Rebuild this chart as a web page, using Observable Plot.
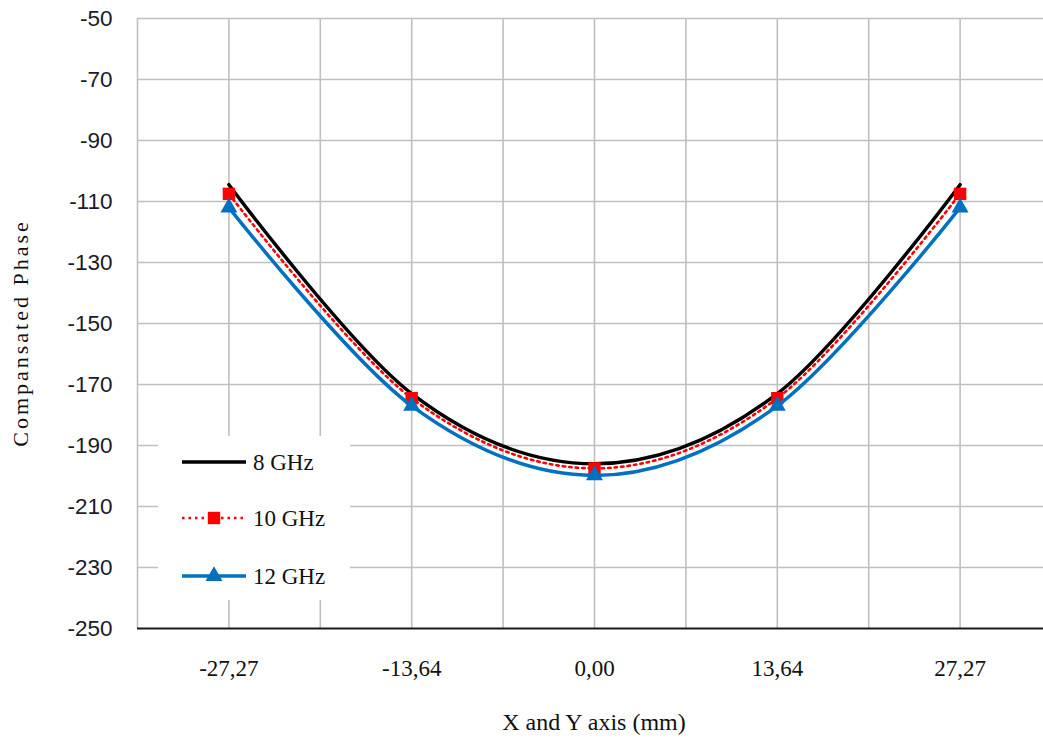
<!DOCTYPE html>
<html>
<head>
<meta charset="utf-8">
<script src="https://cdn.jsdelivr.net/npm/d3@7"></script>
<script src="https://cdn.jsdelivr.net/npm/@observablehq/plot@0.6"></script>
<style>
  html, body { margin: 0; padding: 0; background: #fff; }
  #chart { width: 1043px; height: 745px; }
</style>
</head>
<body>
<div id="chart"></div>
<script>
// ---- data ----
const xLabels = ["-27,27", "-13,64", "0,00", "13,64", "27,27"];
const seriesNames = ["8 GHz", "10 GHz", "12 GHz"];
const phase8GHz  = [-104.5, -173.0, -196.0, -173.0, -104.5];
const phase10GHz = [-107.5, -174.5, -197.5, -174.5, -107.5];
const phase12GHz = [-112.0, -177.0, -199.8, -177.0, -112.0];
const yTicks = [-250, -230, -210, -190, -170, -150, -130, -110, -90, -70, -50];
const xTitle = "X and Y axis (mm)";
const yTitle = "Compansated Phase";

const idx = xLabels.map((_, i) => i);
const toRows = vals => vals.map((v, i) => ({ i, v }));
const d8 = toRows(phase8GHz), d10 = toRows(phase10GHz), d12 = toRows(phase12GHz);
const gridXTicks = idx.flatMap(i => [i - 0.5, i]);

const serif = "'Liberation Serif', 'Times New Roman', serif";
const sans = "'Liberation Sans', Arial, sans-serif";
const gridColor = "#bfbfbf";
const blue = "#0070c0";
const red = "#ff0000";

const svg = Plot.plot({
  width: 1043,
  height: 745,
  marginLeft: 137,
  marginTop: 18,
  marginBottom: 117,
  marginRight: 0,
  style: { background: "#fff", fontFamily: serif, color: "#111" },
  x: { domain: [-0.5, 4.5], range: [137, 1051] },
  y: { domain: [-250, -50] },
  marks: [
    Plot.gridY(yTicks.filter(t => t > -250), { stroke: gridColor, strokeOpacity: 1, strokeWidth: 1.6 }),
    Plot.gridX(gridXTicks, { stroke: gridColor, strokeOpacity: 1, strokeWidth: 1.6 }),
    Plot.ruleY([-250], { stroke: "#1a1a1a", strokeWidth: 2 }),
    Plot.axisY(yTicks, { tickSize: 0, tickPadding: 25, tickFormat: d => String(d), fontSize: 22.5, fontFamily: sans, fill: "#1a1a2a", label: null }),
    Plot.axisX(idx, { tickSize: 0, tickPadding: 31, tickFormat: i => xLabels[i], fontSize: 23, fontFamily: serif, fill: "#111", label: null }),
    Plot.line(d8, { x: "i", y: "v", curve: "cardinal", stroke: "#000", strokeWidth: 3.5 }),
    Plot.line(d10, { x: "i", y: "v", curve: "cardinal", stroke: red, strokeWidth: 2.6, strokeDasharray: "2.5,4" }),
    Plot.dot(d10, { x: "i", y: "v", symbol: "square", fill: red, r: 7 }),
    Plot.line(d12, { x: "i", y: "v", curve: "cardinal", stroke: blue, strokeWidth: 3.5 }),
    Plot.dot(d12, { x: "i", y: "v", symbol: "triangle", fill: blue, r: 6.3 })
  ]
});

const root = d3.select(svg);

// axis titles
root.append("text")
  .attr("transform", "translate(20,333) rotate(-90)")
  .attr("text-anchor", "middle").attr("dy", "0.35em")
  .attr("font-family", serif).attr("font-size", 22).attr("fill", "#111")
  .style("letter-spacing", "3px")
  .text(yTitle);
root.append("text")
  .attr("x", 594).attr("y", 722).attr("dy", "0.35em")
  .attr("text-anchor", "middle")
  .attr("font-family", serif).attr("font-size", 24).attr("fill", "#111")
  .text(xTitle);

// ---- legend (inside plot, lower left) ----
const lg = root.append("g").attr("class", "legend");
lg.append("rect").attr("x", 158).attr("y", 436).attr("width", 192).attr("height", 164).attr("fill", "#fff");
const rowsY = [462, 518, 576];
const styles = [
  { stroke: "#000", width: 3.5, dash: null, sym: null, fill: null, r: 0 },
  { stroke: red, width: 2.6, dash: "2.5,4", sym: d3.symbolSquare, fill: red, r: 7 },
  { stroke: blue, width: 3.5, dash: null, sym: d3.symbolTriangle, fill: blue, r: 6.3 }
];
seriesNames.forEach((name, k) => {
  const y = rowsY[k], s = styles[k];
  lg.append("line").attr("x1", 182).attr("x2", 246).attr("y1", y).attr("y2", y)
    .attr("stroke", s.stroke).attr("stroke-width", s.width).attr("stroke-dasharray", s.dash);
  if (s.sym) {
    lg.append("path").attr("d", d3.symbol(s.sym, Math.PI * s.r * s.r)())
      .attr("transform", `translate(214,${y})`).attr("fill", s.fill);
  }
  lg.append("text").attr("x", 253).attr("y", y).attr("dy", "0.35em")
    .attr("text-anchor", "start")
    .attr("font-family", serif).attr("font-size", 23).attr("fill", "#111").text(name);
});

document.getElementById("chart").appendChild(svg);
</script>
</body>
</html>
